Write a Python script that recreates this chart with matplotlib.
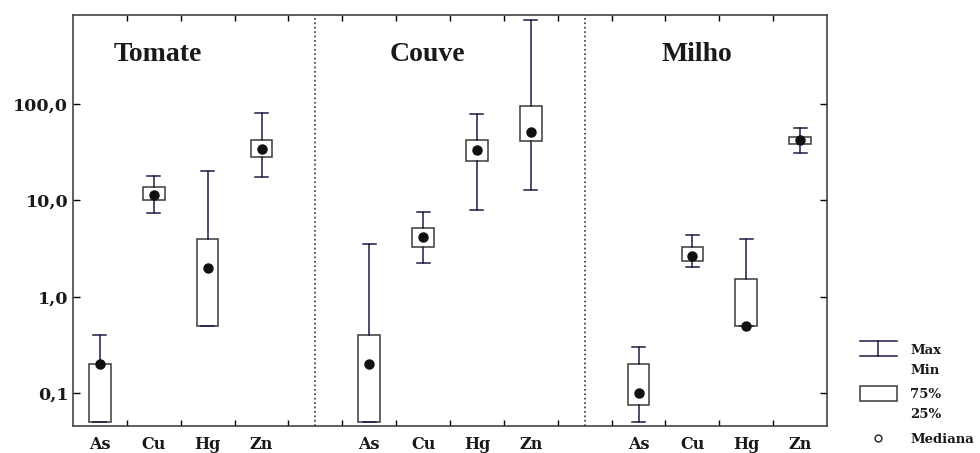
import numpy as np
import matplotlib
matplotlib.use("Agg")
import matplotlib.pyplot as plt
from matplotlib.lines import Line2D
from matplotlib.patches import Rectangle

# dados (escala log)
culturas = ["Tomate", "Couve", "Milho"]
elementos = ["As", "Cu", "Hg", "Zn"]

minimo = {
    "Tomate": [0.05, 7.4, 0.5, 17.3],
    "Couve": [0.05, 2.24, 8.0, 12.7],
    "Milho": [0.05, 2.05, 0.5, 30.7],
}
q25 = {
    "Tomate": [0.05, 10.2, 0.5, 28.3],
    "Couve": [0.05, 3.3, 25.7, 41.5],
    "Milho": [0.075, 2.36, 0.5, 38.4],
}
mediana = {
    "Tomate": [0.2, 11.4, 2.0, 34.3],
    "Couve": [0.2, 4.2, 33.5, 51.0],
    "Milho": [0.1, 2.66, 0.5, 42.8],
}
q75 = {
    "Tomate": [0.2, 13.9, 4.0, 42.8],
    "Couve": [0.4, 5.2, 42.8, 96.5],
    "Milho": [0.2, 3.25, 1.52, 45.7],
}
maximo = {
    "Tomate": [0.4, 18.1, 20.0, 81.6],
    "Couve": [3.5, 7.5, 79.0, 741.0],
    "Milho": [0.3, 4.4, 4.0, 57.0],
}

# posição de cada grupo no eixo x (largura dos painéis 4.5, 5, 4.5)
inicio = {"Tomate": 0.5, "Couve": 5.5, "Milho": 10.5}
divisorias = [4.5, 9.5]

cor_bigode = "#1c1c44"
cor_caixa = "#3a3a3a"

fig = plt.figure(figsize=(9.8, 4.53), dpi=100)
ax = fig.add_axes([0.0745, 0.0596, 0.7694, 0.9073])

for cult in culturas:
    stats = []
    for i, el in enumerate(elementos):
        stats.append(dict(med=mediana[cult][i], q1=q25[cult][i], q3=q75[cult][i],
                          whislo=minimo[cult][i], whishi=maximo[cult][i], label=el))
    pos = inicio[cult] + np.arange(len(elementos))
    ax.bxp(stats, positions=pos, widths=0.4, showfliers=False, patch_artist=True,
           boxprops=dict(facecolor="white", edgecolor=cor_caixa, linewidth=1.1),
           whiskerprops=dict(color=cor_bigode, linewidth=1.1),
           capprops=dict(color=cor_bigode, linewidth=1.1),
           medianprops=dict(linestyle="none"), capwidths=0.24, zorder=2)
    ax.plot(pos, mediana[cult], "o", color="#111111", markersize=6.5, zorder=3)
    ax.text(inicio[cult] + 1.08, 324, cult, ha="center", va="center",
            fontsize=20, fontweight="bold", family="Liberation Serif", color="#1a1a1a")

for d in divisorias:
    ax.axvline(d, color="#333333", linestyle=":", linewidth=1.2, zorder=1)

ax.set_yscale("log")
ax.set_ylim(0.0455, 840)
ax.set_xlim(0, 14)

ax.set_yticks([0.1, 1, 10, 100])
ax.set_yticklabels(["0,1", "1,0", "10,0", "100,0"])
ax.yaxis.set_minor_locator(plt.NullLocator())

ax.set_xticks(np.arange(1, 14))
ax.set_xticklabels([])
ax.tick_params(axis="x", which="major", direction="in", top=True, bottom=True, length=4, width=1)
ax.tick_params(axis="y", which="major", direction="out", left=True, length=5, width=1)
ax.tick_params(axis="y", which="major", direction="in", right=True)

# rótulos dos elementos sob cada caixa
for cult in culturas:
    for i, el in enumerate(elementos):
        ax.text(inicio[cult] + i, -0.025, el, transform=ax.get_xaxis_transform(),
                ha="center", va="top", fontsize=11.5, fontweight="bold",
                family="DejaVu Serif", color="#1a1a1a")

for lab in ax.get_yticklabels():
    lab.set_fontsize(12.5)
    lab.set_fontweight("bold")
    lab.set_family("DejaVu Serif")
    lab.set_color("#1a1a1a")

for s in ax.spines.values():
    s.set_color("#444444")
    s.set_linewidth(1.2)

# legenda à direita
lg = fig.add_axes([0.86, 0.0, 0.14, 0.3])
lg.set_xlim(0, 140)
lg.set_ylim(136, 0)
lg.axis("off")
lg.add_line(Line2D([18, 55], [24, 24], color=cor_bigode, linewidth=1.1))
lg.add_line(Line2D([18, 55], [39, 39], color=cor_bigode, linewidth=1.1))
lg.add_line(Line2D([36, 36], [24, 39], color=cor_bigode, linewidth=1.1))
lg.add_patch(Rectangle((18, 69), 37, 15, facecolor="white", edgecolor=cor_caixa, linewidth=1.1))
lg.plot([36], [121], "o", markerfacecolor="white", markeredgecolor="#222222", markersize=5)
for txt, yy in [("Max", 33), ("Min", 53), ("75%", 77), ("25%", 97), ("Mediana", 122)]:
    lg.text(69, yy, txt, ha="left", va="center", fontsize=9.5, fontweight="bold",
            family="DejaVu Serif", color="#1a1a1a")

fig.savefig("out.png", dpi=100)
